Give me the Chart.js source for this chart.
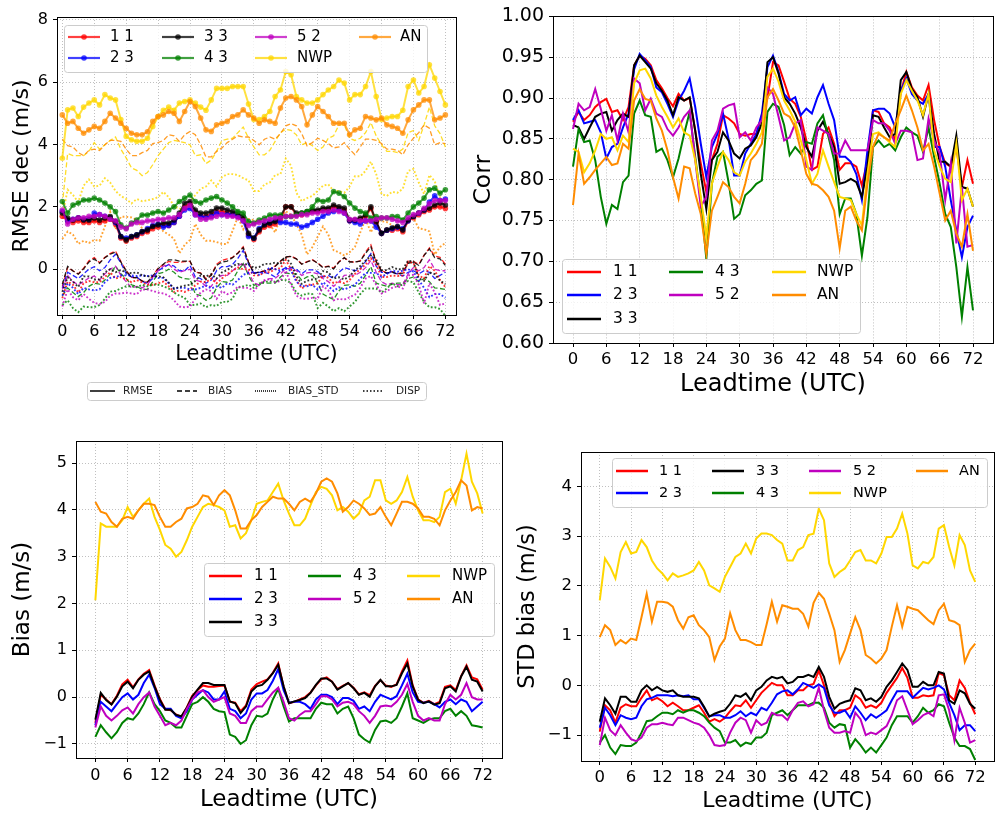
<!DOCTYPE html>
<html>
<head>
<meta charset="utf-8">
<title>Leadtime verification</title>
<script src="https://cdn.jsdelivr.net/npm/chart.js@4.4.1/dist/chart.umd.min.js"></script>
<style>
  html, body { margin: 0; padding: 0; background: #fff; }
  #wrap { position: relative; width: 999px; height: 814px; background: #fff; }
  #wrap canvas { position: absolute; left: 0; top: 0; }
</style>
</head>
<body>
<div id="wrap">
  <canvas id="rmse" width="999" height="814"></canvas>
  <canvas id="corr" width="999" height="814"></canvas>
  <canvas id="bias" width="999" height="814"></canvas>
  <canvas id="stdbias" width="999" height="814"></canvas>
</div>
<script>
// leadtime hours 0..72
const LEADTIME = Array.from({length: 73}, (_, h) => h);
const X_TICKS = [0, 6, 12, 18, 24, 30, 36, 42, 48, 54, 60, 66, 72];
const SERIES = ['1 1', '2 3', '3 3', '4 3', '5 2', 'NWP', 'AN'];
const COLORS = ['#ff0000', '#0000ff', '#000000', '#008000', '#bf00bf', '#ffd700', '#ff8c00'];
const STYLE_LABELS = ['RMSE', 'BIAS', 'BIAS_STD', 'DISP'];

const Y_TICKS_RMSE = [0, 2, 4, 6, 8];
const Y_TICKS_CORR = [0.60, 0.65, 0.70, 0.75, 0.80, 0.85, 0.90, 0.95, 1.00];
const Y_TICKS_BIAS = [-1, 0, 1, 2, 3, 4, 5];
const Y_TICKS_STD = [-1, 0, 1, 2, 3, 4];

// RMSE dec (m/s)
const RMSE_11 = [
  1.7, 1.55, 1.5, 1.55, 1.5, 1.5, 1.55, 1.5, 1.55, 1.6, 1.45, 1.0,
  0.9, 1.0, 1.05, 1.15, 1.2, 1.3, 1.35, 1.4, 1.4, 1.5, 1.7, 2.0,
  2.1, 1.8, 1.7, 1.7, 1.75, 1.85, 1.85, 1.8, 1.75, 1.7, 1.6, 1.1,
  0.95, 1.2, 1.35, 1.4, 1.45, 1.6, 2.0, 2.0, 1.75, 1.75, 1.8, 1.85,
  1.85, 1.9, 1.9, 2.0, 1.95, 1.9, 1.55, 1.55, 1.6, 1.7, 1.95, 1.5,
  1.15, 1.25, 1.25, 1.3, 1.2, 1.55, 1.65, 1.75, 1.85, 1.9, 2.0, 2.0,
  1.95];
const RMSE_23 = [
  1.85, 1.55, 1.6, 1.65, 1.6, 1.6, 1.8, 1.75, 1.7, 1.65, 1.5, 1.05,
  1.0, 1.05, 1.1, 1.2, 1.3, 1.4, 1.45, 1.35, 1.4, 1.5, 1.7, 1.9,
  1.95, 1.75, 1.7, 1.65, 1.7, 1.8, 1.75, 1.75, 1.75, 1.7, 1.55, 1.05,
  1.0, 1.3, 1.45, 1.5, 1.55, 1.5, 1.5, 1.45, 1.45, 1.35, 1.4, 1.5,
  1.6, 1.7, 1.8, 1.85, 1.9, 1.8, 1.55, 1.5, 1.45, 1.55, 1.55, 1.35,
  1.15, 1.25, 1.3, 1.35, 1.3, 1.55, 1.7, 1.8, 1.9, 2.15, 2.35, 2.2,
  2.25];
const RMSE_33 = [
  1.8, 1.64, 1.58, 1.64, 1.58, 1.58, 1.64, 1.58, 1.64, 1.69, 1.53, 1.05,
  0.94, 1.05, 1.1, 1.21, 1.26, 1.37, 1.42, 1.48, 1.48, 1.58, 1.8, 2.12,
  2.17, 1.9, 1.8, 1.8, 1.85, 1.96, 1.96, 1.9, 1.85, 1.8, 1.69, 1.15,
  0.99, 1.26, 1.42, 1.48, 1.53, 1.69, 2.0, 2.0, 1.8, 1.8, 1.85, 1.9,
  1.9, 1.96, 1.96, 2.06, 2.0, 1.96, 1.58, 1.58, 1.64, 1.74, 2.0, 1.53,
  1.15, 1.26, 1.32, 1.37, 1.26, 1.58, 1.69, 1.8, 1.9, 1.96, 2.06, 2.12,
  2.06];
const RMSE_43 = [
  2.17, 1.8, 2.06, 2.12, 2.22, 2.22, 2.28, 2.22, 2.12, 2.0, 1.85, 1.42,
  1.32, 1.48, 1.58, 1.74, 1.74, 1.8, 1.85, 1.8, 1.9, 2.0, 2.17, 2.28,
  2.38, 2.17, 2.12, 2.22, 2.28, 2.33, 2.22, 2.12, 2.0, 1.85, 1.8, 1.53,
  1.48, 1.58, 1.64, 1.74, 1.74, 1.74, 1.69, 1.69, 1.74, 1.8, 1.85, 2.0,
  2.22, 2.17, 2.22, 2.49, 2.44, 2.33, 2.12, 1.96, 1.85, 1.8, 1.64, 1.69,
  1.64, 1.64, 1.69, 1.69, 1.58, 1.8, 2.0, 2.12, 2.28, 2.55, 2.6, 2.44,
  2.55];
const RMSE_52 = [
  1.9, 1.45, 1.6, 1.65, 1.65, 1.7, 1.7, 1.75, 1.7, 1.6, 1.55, 1.35,
  1.3, 1.45, 1.5, 1.5, 1.55, 1.55, 1.6, 1.6, 1.65, 1.65, 1.75, 1.95,
  2.05, 1.75, 1.6, 1.6, 1.65, 1.7, 1.75, 1.7, 1.7, 1.65, 1.55, 1.4,
  1.45, 1.5, 1.55, 1.6, 1.65, 1.65, 1.7, 1.7, 1.7, 1.75, 1.75, 1.8,
  1.8, 1.85, 1.85, 1.9, 1.85, 1.8, 1.6, 1.6, 1.55, 1.55, 1.55, 1.6,
  1.65, 1.65, 1.6, 1.55, 1.5, 1.65, 1.75, 1.8, 1.95, 2.1, 2.2, 2.2,
  2.2];
const RMSE_NWP = [
  3.56, 5.11, 5.17, 4.9, 5.2, 5.33, 5.43, 5.27, 5.6, 5.49, 5.43, 4.8,
  4.26, 4.15, 4.1, 4.1, 4.2, 4.58, 4.9, 5.1, 5.2, 5.1, 5.33, 5.38,
  5.43, 5.33, 5.2, 5.1, 5.43, 5.8, 5.8, 5.8, 5.86, 5.86, 5.86, 5.3,
  4.8, 4.8, 4.9, 5.06, 5.54, 5.75, 6.34, 6.24, 5.54, 5.43, 5.33, 5.33,
  5.43, 5.6, 5.75, 5.86, 6.07, 5.97, 5.43, 5.6, 5.6, 5.86, 6.34, 5.54,
  4.8, 4.85, 4.9, 4.9, 5.1, 5.86, 6.07, 5.65, 5.86, 6.56, 6.13, 5.7,
  5.27];
const RMSE_AN = [
  4.95, 4.68, 4.74, 4.52, 4.36, 4.47, 4.58, 4.52, 4.74, 5.0, 4.85, 4.68,
  4.52, 4.36, 4.31, 4.31, 4.41, 4.74, 4.9, 4.95, 5.06, 5.0, 4.74, 5.06,
  5.38, 5.22, 4.85, 4.47, 4.42, 4.63, 4.68, 4.74, 4.9, 4.95, 5.11, 4.95,
  4.85, 4.68, 4.79, 4.74, 4.68, 5.17, 5.49, 5.54, 5.43, 5.22, 4.63, 4.95,
  5.22, 5.06, 4.9, 4.68, 4.68, 4.68, 4.31, 4.47, 4.52, 4.9, 4.85, 4.79,
  4.85, 4.63, 4.58, 4.52, 4.36, 4.79, 5.11, 5.27, 5.43, 5.43, 4.79, 4.85,
  4.95];

// Corr
const CORR_11 = [
  .871, .883, .873, .879, .889, .895, .899, .883, .885, .873, .889, .94,
  .952, .948, .94, .922, .912, .9, .89, .905, .897, .9, .86, .82,
  .785, .824, .844, .879, .875, .869, .856, .854, .856, .856, .879, .9,
  .944, .94, .92, .899, .893, .877, .848, .812, .816, .856, .864, .844,
  .812, .82, .82, .816, .793, .824, .885, .883, .869, .864, .848, .907,
  .932, .913, .903, .897, .916, .873, .84, .82, .816, .84, .791, .824,
  .795];
const CORR_23 = [
  .873, .885, .869, .871, .873, .858, .826, .84, .844, .864, .881, .935,
  .954, .946, .938, .913, .907, .893, .877, .897, .909, .924, .889, .844,
  .803, .84, .856, .881, .85, .805, .805, .832, .844, .856, .881, .938,
  .952, .932, .905, .897, .901, .879, .887, .881, .901, .916, .893, .873,
  .828, .828, .822, .807, .775, .836, .885, .887, .887, .881, .864, .909,
  .924, .905, .897, .893, .905, .84, .84, .816, .775, .738, .705, .742,
  .756];
const CORR_33 = [
  .867, .864, .85, .864, .877, .881, .883, .86, .873, .881, .877, .94,
  .952, .944, .936, .918, .909, .897, .879, .901, .897, .901, .86, .807,
  .764, .824, .834, .858, .848, .832, .826, .838, .842, .852, .869, .944,
  .95, .93, .901, .893, .881, .864, .84, .828, .86, .871, .856, .84,
  .795, .797, .801, .797, .779, .816, .879, .877, .864, .852, .856, .922,
  .932, .911, .901, .877, .905, .856, .822, .822, .816, .854, .791, .789,
  .767];
const CORR_43 = [
  .816, .862, .846, .848, .824, .779, .746, .769, .764, .797, .805, .881,
  .897, .879, .877, .834, .838, .824, .803, .826, .856, .883, .828, .775,
  .703, .795, .828, .834, .797, .752, .758, .781, .787, .795, .799, .883,
  .893, .889, .867, .83, .84, .832, .846, .844, .869, .879, .852, .824,
  .758, .777, .777, .758, .707, .754, .84, .848, .84, .844, .836, .852,
  .864, .858, .854, .834, .864, .828, .795, .758, .742, .693, .632, .693,
  .64];
const CORR_52 = [
  .862, .893, .885, .889, .911, .887, .86, .879, .848, .881, .858, .924,
  .918, .885, .899, .881, .877, .862, .854, .864, .877, .885, .824, .767,
  .779, .848, .86, .887, .891, .893, .852, .858, .848, .864, .873, .913,
  .905, .877, .848, .852, .869, .873, .816, .812, .864, .86, .856, .832,
  .832, .848, .836, .836, .836, .836, .873, .869, .869, .86, .844, .86,
  .86, .858, .824, .826, .875, .848, .832, .775, .82, .722, .791, .718,
  .72];
const CORR_NWP = [
  .838, .834, .809, .82, .836, .856, .85, .852, .836, .854, .846, .918,
  .934, .936, .924, .903, .889, .877, .864, .875, .858, .854, .824, .779,
  .73, .795, .816, .834, .824, .809, .805, .822, .832, .844, .858, .926,
  .936, .92, .897, .885, .871, .848, .824, .795, .807, .836, .816, .797,
  .779, .777, .775, .758, .744, .807, .856, .858, .852, .846, .84, .905,
  .922, .909, .897, .879, .905, .836, .816, .801, .797, .844, .775, .789,
  .767];
const CORR_AN = [
  .769, .832, .795, .803, .812, .82, .828, .818, .82, .844, .838, .897,
  .911, .899, .897, .875, .86, .836, .803, .777, .816, .814, .783, .758,
  .709, .762, .779, .797, .791, .779, .771, .795, .824, .832, .844, .901,
  .911, .897, .881, .877, .864, .836, .807, .795, .793, .787, .779, .762,
  .716, .762, .767, .75, .738, .795, .84, .856, .852, .848, .869, .885,
  .903, .885, .864, .836, .844, .816, .783, .75, .762, .734, .718, .758,
  .713];

// Bias (m/s)
const BIAS_11 = [
  -0.55, 0.05, -0.05, -0.15, 0.03, 0.27, 0.37, 0.21, 0.38, 0.5, 0.58, 0.25,
  -0.04, -0.26, -0.28, -0.37, -0.42, -0.22, 0.03, 0.15, 0.25, 0.22, 0.22, 0.24,
  0.25, -0.1, -0.12, -0.3, -0.18, 0.16, 0.28, 0.33, 0.38, 0.52, 0.72, 0.22,
  -0.13, -0.1, -0.05, 0.0, 0.1, 0.25, 0.38, 0.42, 0.33, 0.17, 0.24, 0.3,
  0.2, 0.06, 0.1, 0.04, 0.24, 0.36, 0.25, 0.22, 0.27, 0.55, 0.78, 0.25,
  -0.05, -0.12, -0.08, -0.15, -0.1, 0.22, 0.25, 0.15, 0.45, 0.68, 0.42, 0.38,
  0.16];
const BIAS_23 = [
  -0.6, -0.1, -0.2, -0.3, -0.15, 0.0, 0.08, -0.05, 0.05, 0.3, 0.48, 0.2,
  -0.15, -0.25, -0.25, -0.4, -0.45, -0.3, -0.05, 0.05, 0.15, 0.1, -0.05, -0.05,
  0.12, -0.25, -0.3, -0.45, -0.35, -0.05, 0.08, 0.08, 0.15, 0.35, 0.6, 0.15,
  -0.12, -0.1, -0.1, -0.15, -0.25, -0.05, 0.05, 0.05, 0.0, -0.15, -0.02, -0.02,
  -0.08, -0.25, -0.2, -0.3, -0.1, 0.05, 0.0, -0.05, 0.02, 0.25, 0.5, 0.1,
  -0.1, -0.12, -0.1, -0.15, -0.22, -0.1, -0.05, -0.15, -0.05, -0.1, -0.3, -0.2,
  -0.1];
const BIAS_33 = [
  -0.48, 0.09, -0.06, -0.16, 0.01, 0.23, 0.33, 0.19, 0.37, 0.48, 0.55, 0.23,
  -0.06, -0.27, -0.27, -0.38, -0.41, -0.23, 0.01, 0.16, 0.3, 0.3, 0.26, 0.26,
  0.26, -0.09, -0.13, -0.34, -0.2, 0.12, 0.23, 0.26, 0.37, 0.51, 0.69, 0.23,
  -0.13, -0.09, -0.06, -0.02, 0.09, 0.26, 0.4, 0.4, 0.33, 0.16, 0.23, 0.3,
  0.19, 0.05, 0.09, 0.01, 0.23, 0.37, 0.23, 0.23, 0.26, 0.51, 0.72, 0.23,
  -0.06, -0.13, -0.09, -0.16, -0.13, 0.19, 0.23, 0.12, 0.44, 0.65, 0.37, 0.33,
  0.12];
const BIAS_43 = [
  -0.85, -0.6, -0.75, -0.88, -0.75, -0.55, -0.45, -0.48, -0.35, -0.15, 0.1, -0.15,
  -0.3, -0.5, -0.55, -0.65, -0.65, -0.4, -0.15, -0.1, 0.0, -0.1, -0.25, -0.3,
  -0.32, -0.8, -0.85, -1.0, -0.92, -0.6, -0.4, -0.42, -0.35, -0.05, 0.18, -0.2,
  -0.52, -0.45, -0.45, -0.45, -0.45, -0.25, -0.12, -0.15, -0.15, -0.35, -0.25, -0.2,
  -0.45, -0.8, -0.9, -0.97, -0.7, -0.52, -0.5, -0.55, -0.45, -0.2, 0.08, -0.45,
  -0.5, -0.55, -0.48, -0.45, -0.45, -0.3, -0.25, -0.4, -0.3, -0.4, -0.6, -0.62,
  -0.65];
const BIAS_52 = [
  -0.65, -0.2, -0.4, -0.5, -0.4, -0.28, -0.22, -0.35, -0.15, 0.0, 0.1, -0.2,
  -0.4, -0.6, -0.55, -0.6, -0.5, -0.25, -0.05, 0.1, 0.15, 0.0, -0.1, -0.05,
  0.0, -0.35, -0.4, -0.55, -0.55, -0.3, -0.2, -0.2, -0.05, 0.1, 0.2, -0.1,
  -0.45, -0.5, -0.38, -0.3, -0.3, -0.15, 0.02, 0.02, -0.05, -0.2, -0.12, -0.1,
  -0.15, -0.3, -0.4, -0.55, -0.4, -0.2, -0.18, -0.2, -0.1, 0.05, 0.28, -0.1,
  -0.4, -0.5, -0.45, -0.5, -0.5, -0.15, 0.05, -0.05, 0.05, 0.3, 0.0, -0.05,
  -0.05];
const BIAS_NWP = [
  2.07, 3.71, 3.64, 3.64, 3.64, 3.78, 4.06, 3.85, 3.99, 4.13, 4.24, 3.85,
  3.57, 3.25, 3.17, 3.0, 3.1, 3.35, 3.64, 3.85, 4.06, 4.13, 4.1, 4.06,
  3.99, 3.64, 3.67, 3.39, 3.5, 3.78, 4.13, 4.17, 4.2, 4.38, 4.56, 4.2,
  3.92, 3.67, 3.67, 3.81, 4.1, 4.38, 4.49, 4.45, 4.31, 3.99, 4.06, 3.96,
  3.81, 3.92, 4.2, 4.28, 4.63, 4.63, 4.2, 4.13, 4.2, 4.38, 4.7, 4.28,
  3.99, 3.78, 3.78, 3.74, 3.85, 4.38, 4.45, 4.13, 4.63, 5.2, 4.6, 4.35,
  3.92];
const BIAS_AN = [
  4.17, 3.96, 3.92, 3.74, 3.64, 3.81, 3.85, 3.81, 3.99, 4.13, 4.13, 4.1,
  3.85, 3.64, 3.64, 3.74, 3.81, 4.03, 4.06, 4.13, 4.31, 4.28, 4.1, 4.31,
  4.42, 4.31, 3.99, 3.6, 3.6, 3.78, 3.89, 4.06, 4.17, 4.28, 4.24, 4.24,
  4.13, 3.99, 4.17, 4.24, 4.17, 4.35, 4.6, 4.67, 4.6, 4.35, 3.96, 4.06,
  4.2, 4.13, 4.03, 3.89, 3.92, 4.06, 3.85, 3.67, 3.92, 4.17, 4.17, 4.13,
  4.03, 3.85, 3.85, 3.81, 3.67, 3.99, 4.2, 4.38, 4.63, 4.52, 3.99, 4.06,
  4.03];

// STD bias (m/s)
const STD_11 = [
  -0.93, -0.4, -0.5, -0.75, -0.45, -0.38, -0.42, -0.42, -0.25, -0.1, -0.3, -0.25,
  -0.32, -0.42, -0.35, -0.42, -0.5, -0.5, -0.45, -0.4, -0.55, -0.73, -0.68, -0.73,
  -0.65, -0.52, -0.4, -0.42, -0.3, -0.45, -0.3, -0.15, -0.05, 0.05, 0.0, 0.0,
  -0.2, -0.2, -0.1, -0.1, 0.0, 0.03, 0.3, 0.0, -0.35, -0.62, -0.5, -0.5,
  -0.45, -0.2, -0.28, -0.45, -0.4, -0.45, -0.35, -0.15, 0.0, 0.15, 0.35, 0.15,
  -0.25, -0.25, -0.2, -0.22, -0.2, 0.25, 0.2, -0.2, -0.3, 0.1, -0.05, -0.35,
  -0.58];
const STD_23 = [
  -0.85, -0.45, -0.6, -0.8, -0.6, -0.65, -0.68, -0.65, -0.42, -0.28, -0.25, -0.2,
  -0.2, -0.2, -0.22, -0.2, -0.22, -0.2, -0.28, -0.28, -0.45, -0.62, -0.6, -0.6,
  -0.65, -0.65, -0.6, -0.52, -0.62, -0.55, -0.6, -0.45, -0.5, -0.35, -0.18, -0.12,
  -0.1, -0.18, -0.08, 0.05, 0.0, -0.05, 0.02, -0.05, -0.4, -0.55, -0.55, -0.5,
  -0.65, -0.42, -0.55, -0.7, -0.58, -0.65, -0.58, -0.5, -0.3, -0.12, -0.12, -0.12,
  -0.25, -0.15, -0.05, -0.08, -0.05, 0.0, -0.08, -0.35, -0.6, -0.9, -0.8, -0.8,
  -0.92];
const STD_33 = [
  -0.73, -0.26, -0.4, -0.57, -0.23, -0.23, -0.33, -0.33, -0.1, 0.0, -0.1, -0.03,
  -0.1, -0.13, -0.1, -0.2, -0.23, -0.23, -0.23, -0.26, -0.43, -0.63, -0.57, -0.53,
  -0.5, -0.37, -0.2, -0.23, -0.16, -0.3, -0.1, -0.03, 0.1, 0.17, 0.14, 0.17,
  0.04, 0.07, 0.17, 0.17, 0.21, 0.17, 0.37, 0.17, -0.23, -0.47, -0.37, -0.33,
  -0.3, -0.06, -0.1, -0.3, -0.26, -0.33, -0.23, -0.03, 0.1, 0.27, 0.44, 0.31,
  -0.03, -0.03, 0.07, 0.0, 0.0, 0.27, 0.24, -0.3, -0.37, -0.1, -0.16, -0.37,
  -0.47];
const STD_43 = [
  -1.15, -1.0, -1.25, -1.38, -1.2, -1.22, -1.22, -1.15, -0.95, -0.72, -0.7, -0.62,
  -0.55, -0.55, -0.58, -0.5, -0.55, -0.5, -0.5, -0.55, -0.62, -0.75, -0.85, -0.92,
  -1.15, -1.15, -1.1, -1.22, -1.15, -1.18, -1.05, -1.05, -0.95, -0.6, -0.55, -0.5,
  -0.6, -0.5, -0.4, -0.4, -0.4, -0.35, -0.35, -0.45, -0.75, -0.85, -0.78, -0.8,
  -1.25, -1.08, -1.2, -1.35, -1.25, -1.35, -1.2, -1.05, -0.8, -0.62, -0.62, -0.62,
  -0.75, -0.62, -0.45, -0.55, -0.5, -0.38, -0.42, -0.75, -1.05, -1.22, -1.22, -1.28,
  -1.5];
const STD_52 = [
  -1.2, -0.65, -0.9, -1.0, -0.8, -0.95, -1.08, -1.12, -1.05, -0.85, -0.78, -0.78,
  -0.75, -0.78, -0.8, -0.65, -0.65, -0.7, -0.75, -0.78, -0.85, -1.0, -1.2, -1.22,
  -1.2, -0.95, -0.75, -0.65, -0.7, -0.95, -0.7, -0.8, -0.75, -0.55, -0.6, -0.6,
  -0.7, -0.5, -0.35, -0.32, -0.42, -0.38, -0.05, -0.5, -0.85, -0.95, -0.95, -0.92,
  -0.95, -0.55, -0.68, -1.0, -0.95, -0.98, -0.9, -0.82, -0.6, -0.3, -0.22, -0.5,
  -0.78, -0.7, -0.6, -0.55, -0.62, -0.2, -0.18, -0.5, -1.1, -0.45, -0.75, -1.15,
  -1.1];
const STD_NWP = [
  1.71, 2.55, 2.38, 2.15, 2.68, 2.88, 2.65, 2.68, 2.92, 2.78, 2.51, 2.35,
  2.25, 2.11, 2.25, 2.18, 2.21, 2.25, 2.31, 2.48, 2.31, 2.01, 1.95, 1.88,
  2.18, 2.38, 2.58, 2.65, 2.85, 2.65, 2.95, 3.05, 3.05, 3.02, 2.92, 2.85,
  2.51, 2.51, 2.72, 2.78, 3.02, 3.05, 3.55, 3.32, 2.45, 2.18, 2.28, 2.35,
  2.51, 2.68, 2.72, 2.51, 2.51, 2.45, 2.65, 2.98, 2.98, 3.15, 3.45, 3.05,
  2.41, 2.35, 2.48, 2.45, 2.58, 3.15, 3.22, 2.78, 2.41, 3.02, 2.82, 2.31,
  2.08];
const STD_AN = [
  0.97, 1.21, 1.11, 0.81, 0.91, 0.84, 0.94, 0.91, 1.37, 1.84, 1.28, 1.68,
  1.68, 1.66, 1.58, 1.31, 1.14, 1.37, 1.41, 1.21, 1.11, 0.97, 0.51, 0.78,
  0.94, 1.45, 1.11, 0.91, 0.91, 0.87, 0.81, 0.81, 1.23, 1.68, 1.28, 1.61,
  1.58, 1.54, 1.54, 1.44, 1.18, 1.66, 1.86, 1.74, 1.44, 1.11, 0.47, 0.71,
  1.04, 1.37, 1.11, 0.61, 0.54, 0.44, 0.54, 0.71, 1.18, 1.61, 1.18, 1.58,
  1.54, 1.51, 1.41, 1.31, 1.23, 1.51, 1.64, 1.31, 1.28, 1.21, 0.47, 0.71,
  0.84];

const RMSE_ALL = [RMSE_11, RMSE_23, RMSE_33, RMSE_43, RMSE_52, RMSE_NWP, RMSE_AN];
const CORR_ALL = [CORR_11, CORR_23, CORR_33, CORR_43, CORR_52, CORR_NWP, CORR_AN];
const BIAS_ALL = [BIAS_11, BIAS_23, BIAS_33, BIAS_43, BIAS_52, BIAS_NWP, BIAS_AN];
const STD_ALL = [STD_11, STD_23, STD_33, STD_43, STD_52, STD_NWP, STD_AN];

[RMSE_ALL, CORR_ALL, BIAS_ALL, STD_ALL].forEach((grp, g) => grp.forEach((a, i) => {
  if (a.length !== LEADTIME.length) throw new Error('series ' + g + '/' + i + ' has ' + a.length + ' values');
}));

Chart.defaults.font.family = "'DejaVu Sans', 'Liberation Sans', sans-serif";
Chart.defaults.color = '#000';

const W = 999, H = 814;

function rgba(hex, a) {
  const n = parseInt(hex.slice(1), 16);
  return `rgba(${n >> 16}, ${(n >> 8) & 255}, ${n & 255}, ${a})`;
}

function pts(vals) {
  return vals.map((v, i) => ({x: LEADTIME[i], y: v}));
}

function minus(v) {
  return String(v).replace('-', '\u2212');
}

// black box round the plot, like matplotlib spines
const frame = {
  id: 'frame',
  afterDatasetsDraw(chart) {
    const {ctx, chartArea: a} = chart;
    ctx.save();
    ctx.strokeStyle = '#000';
    ctx.lineWidth = 1;
    ctx.setLineDash([]);
    ctx.strokeRect(Math.round(a.left) + 0.5, Math.round(a.top) + 0.5,
      Math.round(a.right - a.left), Math.round(a.bottom - a.top));
    ctx.restore();
  }
};

function legendBox(ctx, x, y, w, h) {
  ctx.beginPath();
  ctx.roundRect(x + 0.5, y + 0.5, w, h, 3);
  ctx.fillStyle = 'rgba(255,255,255,0.8)';
  ctx.fill();
  ctx.strokeStyle = '#cccccc';
  ctx.lineWidth = 1;
  ctx.setLineDash([]);
  ctx.stroke();
}

// matplotlib fills legend columns top to bottom, the first columns get the extra rows
function legendSlots(n, ncol) {
  const base = Math.floor(n / ncol), extra = n % ncol;
  const slots = [];
  for (let c = 0; c < ncol; c++) {
    const count = base + (c < extra ? 1 : 0);
    for (let r = 0; r < count; r++) slots.push([c, r]);
  }
  return slots;
}

const boxLegend = {
  id: 'boxLegend',
  afterDraw(chart, args, o) {
    const ctx = chart.ctx;
    ctx.save();
    ctx.textBaseline = 'middle';
    if (o.box) {
      legendBox(ctx, ...o.box);
      ctx.font = `${o.fontSize}px 'DejaVu Sans'`;
      const items = chart.data.datasets.filter(d => d.inLegend);
      const slots = legendSlots(items.length, o.lineX.length);
      items.forEach((d, i) => {
        const [col, row] = slots[i];
        const y = o.rowY[row], x0 = o.lineX[col];
        ctx.setLineDash([]);
        ctx.strokeStyle = d.borderColor;
        ctx.lineWidth = o.lineWidth;
        ctx.beginPath();
        ctx.moveTo(x0, y);
        ctx.lineTo(x0 + o.lineLen, y);
        ctx.stroke();
        if (d.pointRadius > 0) {
          ctx.fillStyle = d.borderColor;
          ctx.beginPath();
          ctx.arc(x0 + o.lineLen / 2, y, d.pointRadius, 0, 2 * Math.PI);
          ctx.fill();
        }
        ctx.fillStyle = '#000';
        ctx.fillText(d.label, o.textX[col], y);
      });
    }
    if (o.styles) {
      const s = o.styles;
      legendBox(ctx, ...s.box);
      ctx.font = `${s.fontSize}px 'DejaVu Sans'`;
      STYLE_LABELS.forEach((lab, i) => {
        ctx.strokeStyle = '#000';
        ctx.lineWidth = s.lineWidth;
        ctx.setLineDash(s.dashes[i]);
        ctx.beginPath();
        ctx.moveTo(s.lineX[i], s.y);
        ctx.lineTo(s.lineX[i] + s.lineLen[i], s.y);
        ctx.stroke();
        ctx.fillStyle = '#222';
        ctx.fillText(lab, s.textX[i], s.y);
      });
    }
    ctx.restore();
  }
};

function makeChart(id, g, datasets, legend) {
  const yLH = g.yTitleSize * 1.2, xLH = g.xTitleSize * 1.2;
  const padLeft = g.yTitleX - yLH / 2;
  const axisBottom = Math.min(H, g.xTitleY + xLH / 2);
  const [left, top, right, bottom] = g.plot;
  const grid = () => ({color: '#b0b0b0', lineWidth: 0.8, tickColor: '#000', tickLength: 4, tickWidth: 1, tickBorderDash: []});
  const border = () => ({display: false, dash: [1, 2]});
  return new Chart(document.getElementById(id), {
    type: 'line',
    data: {datasets},
    options: {
      responsive: false,
      animation: false,
      events: [],
      layout: {padding: {left: padLeft, top: top, right: W - right, bottom: H - axisBottom}},
      elements: {line: {tension: 0}},
      plugins: {legend: {display: false}, tooltip: {enabled: false}, boxLegend: legend},
      scales: {
        x: {
          type: 'linear', min: g.xMin, max: g.xMax,
          grid: grid(), border: border(),
          afterBuildTicks: s => { s.ticks = X_TICKS.map(v => ({value: v})); },
          afterFit: s => { s.height = axisBottom - bottom; },
          ticks: {font: {size: g.xTickSize}, padding: g.xTickPad, maxRotation: 0, autoSkip: false},
          title: {display: true, text: 'Leadtime (UTC)', font: {size: g.xTitleSize}, padding: 0}
        },
        y: {
          type: 'linear', min: g.yMin, max: g.yMax,
          grid: grid(), border: border(),
          afterBuildTicks: s => { s.ticks = g.yTicks.map(v => ({value: v})); },
          afterFit: s => { s.width = left - padLeft; },
          ticks: {font: {size: g.yTickSize}, padding: 5, callback: g.yFormat},
          title: {display: true, text: g.yTitle, font: {size: g.yTitleSize}, padding: 0}
        }
      }
    },
    plugins: [frame, boxLegend]
  });
}

function plainSets(all) {
  return SERIES.map((name, i) => ({
    label: name, data: pts(all[i]), borderColor: COLORS[i], backgroundColor: COLORS[i],
    borderWidth: 2, pointRadius: 0, fill: false, inLegend: true, order: 10 - i
  }));
}

// ---- top left: RMSE decomposition
const rmseSets = [];
SERIES.forEach((name, i) => {
  rmseSets.push({label: name + ' BIAS', data: pts(BIAS_ALL[i]), borderColor: rgba(COLORS[i], 0.85),
    borderWidth: 1.3, borderDash: [5, 2.5], pointRadius: 0, fill: false, order: 30 - i});
  rmseSets.push({label: name + ' BIAS_STD', data: pts(STD_ALL[i]), borderColor: rgba(COLORS[i], 0.8),
    borderWidth: 1.9, borderDash: [1.8, 2], pointRadius: 0, fill: false, order: 20 - i});
});
SERIES.forEach((name, i) => {
  rmseSets.push({label: name, data: pts(RMSE_ALL[i]), borderColor: rgba(COLORS[i], 0.75),
    backgroundColor: rgba(COLORS[i], 0.75), pointBackgroundColor: rgba(COLORS[i], 0.75),
    borderWidth: 2, pointRadius: 2.8, pointBorderWidth: 0, fill: false, inLegend: true, order: 10 - i});
});

makeChart('rmse', {
  plot: [57, 17, 456, 315], yTitleX: 22, yTitleSize: 22, xTitleY: 355, xTitleSize: 21,
  xMin: -1, xMax: 74, yMin: -1.47, yMax: 8.09, yTicks: Y_TICKS_RMSE,
  xTickSize: 16, yTickSize: 16, xTickPad: 3, yTitle: 'RMSE dec (m/s)', yFormat: minus
}, rmseSets, {
  box: [64, 25, 363, 47], rows: 2, lineX: [68, 162, 255, 359], lineLen: 32,
  textX: [110, 204, 297, 400], rowY: [37, 58], fontSize: 15, lineWidth: 2.2,
  styles: {
    box: [87, 382, 339, 18], y: 391, lineX: [90, 177, 255, 363], lineLen: [25, 20, 22, 20],
    textX: [123, 208, 288, 396], dashes: [[], [5, 3], [1, 1], [1.5, 2]], fontSize: 10.5, lineWidth: 1.5
  }
});

// ---- top right: correlation
makeChart('corr', {
  plot: [553, 16, 993, 343], yTitleX: 484, yTitleSize: 23.5, xTitleY: 385, xTitleSize: 24,
  xMin: -3.6, xMax: 75.6, yMin: 0.6, yMax: 1.0, yTicks: Y_TICKS_CORR,
  xTickSize: 16.5, yTickSize: 19, xTickPad: 3, yTitle: 'Corr', yFormat: v => v.toFixed(2)
}, plainSets(CORR_ALL), {
  box: [562, 259, 298, 74], rows: 3, lineX: [567, 669, 772], lineLen: 34,
  textX: [613, 715, 817], rowY: [272, 295, 319], fontSize: 15.5, lineWidth: 2.5
});

// ---- bottom left: bias
makeChart('bias', {
  plot: [76, 441, 502, 758], yTitleX: 23, yTitleSize: 23, xTitleY: 800, xTitleSize: 23,
  xMin: -3.6, xMax: 75.6, yMin: -1.3, yMax: 5.47, yTicks: Y_TICKS_BIAS,
  xTickSize: 16, yTickSize: 16, xTickPad: 4, yTitle: 'Bias (m/s)', yFormat: minus
}, plainSets(BIAS_ALL), {
  box: [204, 563, 290, 73], rows: 3, lineX: [209, 308, 407], lineLen: 33,
  textX: [254, 353, 452], rowY: [576, 599, 622], fontSize: 15, lineWidth: 2.5
});

// ---- bottom right: std of bias
makeChart('stdbias', {
  plot: [581, 452, 994, 761], yTitleX: 528, yTitleSize: 22.5, xTitleY: 800.8, xTitleSize: 22,
  xMin: -3.6, xMax: 75.6, yMin: -1.52, yMax: 4.69, yTicks: Y_TICKS_STD,
  xTickSize: 16.5, yTickSize: 16.5, xTickPad: 3, yTitle: 'STD bias (m/s)', yFormat: minus
}, plainSets(STD_ALL), {
  box: [612, 458, 375, 49], rows: 2, lineX: [616, 712, 809, 916], lineLen: 32,
  textX: [659, 756, 853, 959], rowY: [471, 493], fontSize: 14.5, lineWidth: 2.5
});
</script>
</body>
</html>
